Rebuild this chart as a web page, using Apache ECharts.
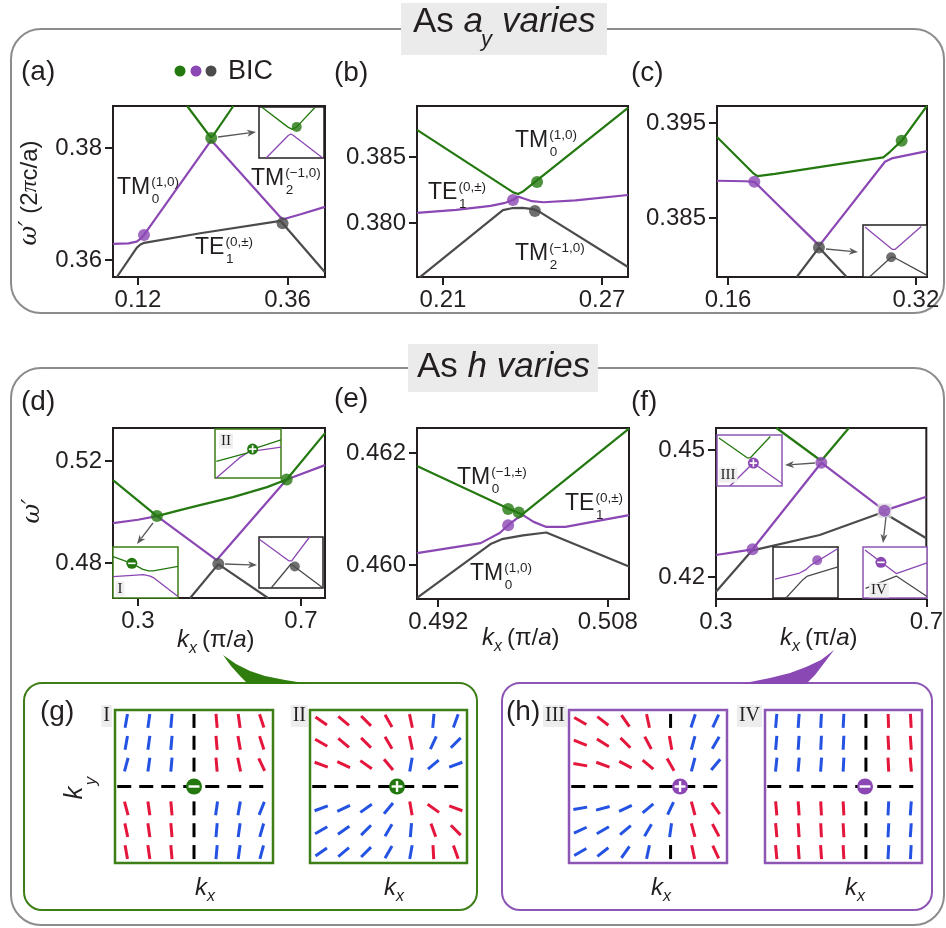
<!DOCTYPE html>
<html><head><meta charset="utf-8">
<script src="https://cdn.jsdelivr.net/npm/echarts@6/dist/echarts.min.js"></script>
<style>html,body{margin:0;padding:0;background:#fff}#c{width:946px;height:928px}</style>
</head><body><div id="c"></div><script>
// ---------------- DATA ----------------
// (a) band structure as a_y varies
const aGreen  = [[0.1989,0.3875],[0.232,0.3826],[0.2376,0.3819],[0.243,0.3826],[0.273,0.3875]];
const aPurple = [[0.080,0.3629],[0.105,0.3630],[0.118,0.3633],[0.124,0.3638],[0.1297,0.3645],[0.2376,0.3814],[0.348,0.3677],[0.353,0.3673],[0.381,0.3682],[0.420,0.3695]];
const aGray   = [[0.0862,0.3570],[0.118,0.3622],[0.124,0.3628],[0.130,0.3631],[0.2199,0.3648],[0.3487,0.3670],[0.3519,0.3666],[0.4196,0.3579]];
const aBicGreen = [[0.2376,0.3818]], aBicPurple = [[0.1297,0.3645]], aBicGray = [[0.3519,0.3666]];
const aXTicks = [0.12,0.36], aYTicks = [0.36,0.38];
// (b)
const bGreen  = [[0.2002,0.38705],[0.2365,0.38232],[0.2383,0.38220],[0.2400,0.38236],[0.2798,0.38871]];
const bPurple = [[0.2002,0.38076],[0.215,0.38100],[0.228,0.38130],[0.233,0.38150],[0.2364,0.38174],[0.2383,0.38200],[0.2405,0.38185],[0.2435,0.38165],[0.2479,0.38157],[0.260,0.38172],[0.2798,0.38212]];
const bGray   = [[0.2013,0.37590],[0.2326,0.38098],[0.2360,0.38112],[0.2400,0.38115],[0.2440,0.38105],[0.2460,0.38090],[0.2798,0.37667]];
const bBicGreen = [[0.2455,0.38310]], bBicPurple = [[0.2364,0.38174]], bBicGray = [[0.2447,0.38091]];
const bXTicks = [0.21,0.27], bYTicks = [0.380,0.385];
// (c)
const cGreen  = [[0.1506,0.39353],[0.1813,0.38974],[0.1850,0.38942],[0.2000,0.38965],[0.2500,0.39060],[0.2922,0.39139],[0.2979,0.39198],[0.3078,0.39314],[0.3294,0.39682]];
const cPurple = [[0.1506,0.38893],[0.1750,0.38888],[0.1824,0.38882],[0.2377,0.38210],[0.2936,0.39093],[0.2993,0.39128],[0.3294,0.39205]];
const cGray   = [[0.2185,0.3788],[0.2374,0.3819],[0.2610,0.3788]];
const cBicGreen = [[0.3078,0.39314]], cBicPurple = [[0.1824,0.38882]], cBicGray = [[0.2374,0.38190]];
const cXTicks = [0.16,0.32], cYTicks = [0.385,0.395];
// (d) as h varies
const dGreen  = [[0.2387,0.51255],[0.3466,0.49843],[0.4031,0.5008],[0.4521,0.50275],[0.5331,0.5059],[0.5748,0.50784],[0.6166,0.5098],[0.6649,0.5128],[0.7589,0.5310]];
const dPurple = [[0.2387,0.49569],[0.300,0.49700],[0.3466,0.49843],[0.4931,0.48118],[0.6649,0.5128],[0.7589,0.51843]];
const dGray   = [[0.4276,0.4662],[0.4971,0.4796],[0.6198,0.4662]];
const dBicGreen = [[0.3466,0.49843],[0.6649,0.5128]], dBicGray = [[0.4971,0.4796]];
const dXTicks = [0.3,0.7], dYTicks = [0.48,0.52];
// (e)
const eGreen  = [[0.4900,0.46177],[0.4986,0.46101],[0.4996,0.46093],[0.4999,0.46090],[0.5100,0.46244]];
const ePurple = [[0.4900,0.46021],[0.4960,0.46039],[0.4978,0.46057],[0.4986,0.46071],[0.4994,0.46083],[0.5000,0.46089],[0.5010,0.46077],[0.5022,0.46068],[0.5040,0.46068],[0.5100,0.46089]];
const eGray   = [[0.4900,0.45941],[0.4970,0.46038],[0.4980,0.46046],[0.5000,0.46053],[0.5022,0.46058],[0.5100,0.45997]];
const eBicGreen = [[0.4986,0.46100],[0.4996,0.46094]], eBicPurple = [[0.4986,0.46071]];
const eXTicks = [0.492,0.508], eYTicks = [0.460,0.462];
// (f)
const fGreen  = [[0.4150,0.4552],[0.4972,0.4477],[0.5027,0.4478],[0.5527,0.4552]];
const fPurple = [[0.3000,0.4252],[0.3695,0.42654],[0.5003,0.4470],[0.6204,0.43567],[0.7000,0.43897]];
const fGray   = [[0.3000,0.41653],[0.3680,0.42620],[0.3740,0.42640],[0.4972,0.42992],[0.6172,0.43528],[0.7000,0.42914]];
const fBicPurple = [[0.3695,0.42654],[0.5003,0.4470],[0.6204,0.43567]];
const fXTicks = [0.3,0.7], fYTicks = [0.42,0.45];
// zoomed insets (normalised inset coordinates)
const insAGreen = [[0.05,0.99],[0.44,0.61],[0.51,0.56],[0.58,0.61],[0.86,0.99]];
const insAPurple = [[0.11,0.0],[0.45,0.44],[0.49,0.47],[0.53,0.44],[0.98,0.0]];
const insADot = [[0.58,0.61]];
const insCPurple = [[0.03,0.96],[0.46,0.53],[0.48,0.51],[0.50,0.53],[0.91,0.97]];
const insCGray = [[0.10,0.0],[0.44,0.38],[0.46,0.40],[0.48,0.38],[0.99,0.04]];
const insCDot = [[0.44,0.38]];
const insIGreen = [[0.0,0.81],[0.29,0.68],[0.46,0.56],[0.55,0.53],[0.62,0.53],[1.0,0.62]];
const insIPurple = [[0.0,0.42],[0.47,0.46],[0.57,0.43],[0.62,0.40],[1.0,0.03]];
const insICharge = [[0.29,0.68,-1]];
const insIIGreen = [[0.02,0.34],[0.48,0.51],[0.57,0.59],[1.0,0.78]];
const insIIPurple = [[0.02,0.0],[0.37,0.41],[0.50,0.52],[0.58,0.55],[1.0,0.63]];
const insIICharge = [[0.57,0.59,1]];
const insDPurple = [[0.01,0.95],[0.47,0.53],[0.49,0.51],[0.51,0.53],[0.79,1.0]];
const insDGray = [[0.19,0.0],[0.50,0.47],[1.0,0.0]];
const insDDot = [[0.56,0.42]];
const insIIIGreen = [[0.03,0.94],[0.47,0.55],[0.49,0.53],[0.51,0.55],[0.82,0.97]];
const insIIIPurple = [[0.2,0.0],[0.54,0.43],[0.56,0.45],[0.58,0.43],[1.0,0.05]];
const insIIICharge = [[0.56,0.45,1]];
const insFPurple = [[0.03,0.37],[0.41,0.49],[0.50,0.55],[0.59,0.65],[1.0,0.97]];
const insFGray = [[0.2,0.0],[0.46,0.36],[0.53,0.43],[1.0,0.61]];
const insFDot = [[0.68,0.74]];
const insIVPurple = [[0.03,0.94],[0.52,0.48],[1.0,0.69]];
const insIVGray = [[0.04,0.19],[0.52,0.43],[1.0,0.03]];
const insIVCharge = [[0.28,0.70,-1]];
// polarization fields (g),(h): angle from vertical in degrees (+ = "/")
const colX = [-3,-2,-1,0,1,2,3];
const rowY = [3,2,1,-1,-2,-3];
const fieldI = [[10,8,5,0,-5,-8,-18],[10,8,5,0,-5,-10,-18],[15,8,5,0,-5,-12,-25],[-15,-8,-5,0,8,10,22],[-12,-8,-5,0,5,8,16],[-10,-8,-5,0,5,8,15]];
const fieldII = [[-55,-50,-45,-30,-12,5,20],[-60,-50,-45,-30,-12,25,45],[-70,-65,-55,-40,10,50,70],[70,65,55,40,-10,-55,-70],[60,55,45,30,5,-20,-45],[55,50,45,30,10,-3,-20]];
const fieldIII = [[-60,-52,-35,-12,0,18,25],[-68,-58,-45,-28,-10,15,30],[-80,-70,-62,-50,-30,15,40],[80,75,65,50,25,-15,-35],[65,60,50,30,8,-15,-28],[60,52,35,12,0,-12,-25]];
const fieldIV = [[5,4,3,3,0,-2,-3],[5,4,3,3,0,-3,-4],[6,5,4,3,0,-3,-5],[-5,-4,-3,-3,0,3,4],[-5,-4,-3,-3,0,3,4],[-5,-4,-4,-3,0,3,3]];
const chargeI = [[0,0,-1]], chargeII = [[0.38,0,1]], chargeIII = [[1.42,0,1]], chargeIV = [[0.96,0,-1]];

// ---------------- STYLE ----------------
const INK = '#231f20';
const GREEN = '#23780f', PURPLE = '#8b47b3', GRAY = '#4b4b4b';
const RED = '#e4163c', BLUE = '#2453e3';
const GBOX = '#3d7e16', PBOX = '#8d56b5';
const SANS = 'Liberation Sans', SERIF = 'Liberation Serif';

const mctx = document.createElement('canvas').getContext('2d');
function tw(t, size, style, fam) { mctx.font = (style||'normal') + ' ' + size + 'px "' + (fam||SANS) + '"'; return mctx.measureText(t).width; }
function T(x, y, t, size, o) {
  o = o || {};
  const st = {text:t, fontSize:size, fontFamily:o.fam||SANS, fontStyle:o.style||'normal', fill:o.color||INK,
    align:o.align||'left', verticalAlign:o.va||'middle'};
  if (o.bg) { st.backgroundColor = o.bg; st.padding = o.pad || [1,2]; }
  if (o.rich) st.rich = o.rich;
  return {type:'text', x:x, y:y, z:50, rotation:o.rot||0, style:st};
}
function mode(x, yc, main, sub, sup) {
  const w = tw(main, 23);
  return [T(x, yc, main, 23), T(x + w + 1, yc - 6, sup, 13.5), T(x + w + 1.5, yc + 11, sub, 13.5)];
}
function kx(x, yc) {
  const w = tw('k', 24, 'italic');
  return [T(x, yc, 'k', 24, {style:'italic'}), T(x + w, yc + 9, 'x', 16, {style:'italic'}),
    T(x + 25, yc, '{n|(π/}{i|a}{n|)}', 24, {rich:{n:{fontSize:24, fontFamily:SANS}, i:{fontSize:24, fontFamily:SANS, fontStyle:'italic'}}})];
}
function arrow(x1, y1, x2, y2) {
  const a = Math.atan2(y2 - y1, x2 - x1), L = 9, W = 3.5;
  const bx = x2 - L * Math.cos(a), by = y2 - L * Math.sin(a);
  return [{type:'line', z:40, shape:{x1:x1, y1:y1, x2:bx + 2 * Math.cos(a), y2:by + 2 * Math.sin(a)}, style:{stroke:'#595959', lineWidth:1.3}},
    {type:'polygon', z:40, shape:{points:[[x2, y2], [bx - W * Math.sin(a), by + W * Math.cos(a)], [bx + 2.5 * Math.cos(a), by + 2.5 * Math.sin(a)], [bx + W * Math.sin(a), by - W * Math.cos(a)]]}, style:{fill:'#595959'}}];
}

// ---------------- BUILD ----------------
const grids = [], xAxes = [], yAxes = [], series = [];
function hiddenAxis(gi, r) { return {gridIndex:gi, type:'value', min:r[0], max:r[1], show:false, splitLine:{show:false}}; }
function tickAxis(gi, r, ticks, dec) {
  return {gridIndex:gi, type:'value', min:r[0], max:r[1], axisLine:{show:false}, splitLine:{show:false},
    axisTick:{show:true, inside:false, length:8, lineStyle:{color:INK, width:2}, customValues:ticks},
    axisLabel:{show:true, customValues:ticks, formatter:function(v){return v.toFixed(dec);}, fontSize:24, color:INK, fontFamily:SANS, margin:11}};
}
function mainGrid(box, xr, yr, xt, yt, xd, yd) {
  const gi = grids.length;
  grids.push({left:box[0], top:box[1], width:box[2], height:box[3], show:true, borderColor:INK, borderWidth:2, backgroundColor:'transparent', z:1});
  xAxes.push(tickAxis(gi, xr, xt, xd)); yAxes.push(tickAxis(gi, yr, yt, yd));
  return gi;
}
function plainGrid(box, xr, yr, border, bw, z) {
  const gi = grids.length;
  grids.push({left:box[0], top:box[1], width:box[2], height:box[3], show:true, borderColor:border, borderWidth:bw, backgroundColor:'#ffffff', z:z});
  xAxes.push(hiddenAxis(gi, xr)); yAxes.push(hiddenAxis(gi, yr));
  return gi;
}
function line(gi, data, color, w, z) {
  series.push({type:'line', xAxisIndex:gi, yAxisIndex:gi, data:data, showSymbol:false, symbol:'none', silent:true, clip:true,
    lineStyle:{color:color, width:w}, z:z || 2});
}
function dots(gi, data, color, size, z, sym) {
  series.push({type:'scatter', xAxisIndex:gi, yAxisIndex:gi, data:data, symbol:sym || 'circle', symbolSize:size, silent:true,
    itemStyle:{color:color}, z:z || 3});
}
function charges(gi, data, color, r, z) {
  series.push({type:'custom', xAxisIndex:gi, yAxisIndex:gi, data:data, z:z, silent:true,
    renderItem:function(p, api) {
      const c = api.coord([api.value(0), api.value(1)]), s = api.value(2), h = r * 0.68;
      const ch = [{type:'circle', shape:{cx:c[0], cy:c[1], r:r}, style:{fill:color}},
        {type:'line', shape:{x1:c[0] - h, y1:c[1], x2:c[0] + h, y2:c[1]}, style:{stroke:'#fff', lineWidth:Math.max(1.4, r * 0.3)}}];
      if (s > 0) ch.push({type:'line', shape:{x1:c[0], y1:c[1] - h, x2:c[0], y2:c[1] + h}, style:{stroke:'#fff', lineWidth:Math.max(1.4, r * 0.3)}});
      return {type:'group', children:ch};
    }});
}
function field(gi, angles) {
  const d = [];
  angles.forEach(function(row, r) { row.forEach(function(a, c) { d.push([colX[c], rowY[r], a]); }); });
  series.push({type:'line', xAxisIndex:gi, yAxisIndex:gi, data:[[-3.4,0],[3.4,0]], showSymbol:false, symbol:'none', silent:true,
    lineStyle:{color:'#000', width:3, type:[14,8]}, z:3});
  series.push({type:'custom', xAxisIndex:gi, yAxisIndex:gi, data:d, z:4, silent:true,
    renderItem:function(p, api) {
      const c = api.coord([api.value(0), api.value(1)]), a = api.value(2), th = a * Math.PI / 180, L = 7;
      const dx = Math.sin(th) * L, dy = Math.cos(th) * L;
      const col = a > 0 ? BLUE : (a < 0 ? RED : '#000');
      return {type:'line', shape:{x1:c[0] - dx, y1:c[1] + dy, x2:c[0] + dx, y2:c[1] - dy}, style:{stroke:col, lineWidth:3}};
    }});
}

// main panels
const gA = mainGrid([113,106,212,171], [0.080,0.420], [0.3570,0.3875], aXTicks, aYTicks, 2, 2);
const gB = mainGrid([417,106,211,171], [0.2002,0.2798], [0.37591,0.38886], bXTicks, bYTicks, 2, 3);
const gC = mainGrid([717,106,210,171], [0.1506,0.3294], [0.3788,0.3968], cXTicks, cYTicks, 2, 3);
const gD = mainGrid([113,428,212,170], [0.2387,0.7589], [0.4663,0.5330], dXTicks, dYTicks, 1, 2);
const gE = mainGrid([417,428,212,171], [0.4900,0.5100], [0.45939,0.46245], eXTicks, eYTicks, 3, 3);
const gF = mainGrid([716,428,211,171], [0.3,0.7], [0.4148,0.4552], fXTicks, fYTicks, 1, 2);

const LW = 2.2, DS = 12;
line(gA, aGray, GRAY, LW); line(gA, aPurple, PURPLE, LW); line(gA, aGreen, GREEN, LW);
dots(gA, aBicGreen, GREEN, DS); dots(gA, aBicPurple, PURPLE, DS); dots(gA, aBicGray, GRAY, DS);
line(gB, bGray, GRAY, LW); line(gB, bPurple, PURPLE, LW); line(gB, bGreen, GREEN, LW);
dots(gB, bBicGreen, GREEN, DS); dots(gB, bBicPurple, PURPLE, DS); dots(gB, bBicGray, GRAY, DS);
line(gC, cGray, GRAY, LW); line(gC, cPurple, PURPLE, LW); line(gC, cGreen, GREEN, LW);
dots(gC, cBicGreen, GREEN, DS); dots(gC, cBicPurple, PURPLE, DS); dots(gC, cBicGray, GRAY, DS);
line(gD, dGray, GRAY, LW); line(gD, dPurple, PURPLE, LW); line(gD, dGreen, GREEN, LW);
dots(gD, dBicGreen, GREEN, DS); dots(gD, dBicGray, GRAY, DS);
line(gE, eGray, GRAY, LW); line(gE, ePurple, PURPLE, LW); line(gE, eGreen, GREEN, LW);
dots(gE, eBicGreen, GREEN, DS); dots(gE, eBicPurple, PURPLE, DS);
line(gF, fGray, GRAY, LW); line(gF, fPurple, PURPLE, LW); line(gF, fGreen, GREEN, LW);
dots(gF, [fBicPurple[2]], '#dcdcdc', 14, 3, 'rect');
dots(gF, fBicPurple, PURPLE, DS, 4);

// insets
const IL = 1.3, ID = 10;
const iA = plainGrid([259,107,65,51], [0,1], [0,1], INK, 1.5, 5);
line(iA, insAPurple, PURPLE, IL, 6); line(iA, insAGreen, GREEN, IL, 6); dots(iA, insADot, GREEN, ID, 7);
const iC = plainGrid([863,225,64,52], [0,1], [0,1], INK, 1.5, 5);
line(iC, insCPurple, PURPLE, IL, 6); line(iC, insCGray, GRAY, IL, 6); dots(iC, insCDot, GRAY, ID, 7);
const iI = plainGrid([113,547,65,51], [0,1], [0,1], GBOX, 1.5, 5);
line(iI, insIPurple, PURPLE, IL, 6); line(iI, insIGreen, GREEN, IL, 6); charges(iI, insICharge, GREEN, 5.5, 7);
const iII = plainGrid([215,429,66,49], [0,1], [0,1], GBOX, 1.5, 5);
line(iII, insIIPurple, PURPLE, IL, 6); line(iII, insIIGreen, GREEN, IL, 6); charges(iII, insIICharge, GREEN, 5.5, 7);
const iD = plainGrid([259,537,64,51], [0,1], [0,1], INK, 1.5, 5);
line(iD, insDPurple, PURPLE, IL, 6); line(iD, insDGray, GRAY, IL, 6); dots(iD, insDDot, GRAY, ID, 7);
const iIII = plainGrid([717,435,65,51], [0,1], [0,1], PBOX, 1.5, 5);
line(iIII, insIIIGreen, GREEN, IL, 6); line(iIII, insIIIPurple, PURPLE, IL, 6); charges(iIII, insIIICharge, PURPLE, 5.5, 7);
const iF = plainGrid([773,547,65,51], [0,1], [0,1], INK, 1.5, 5);
line(iF, insFPurple, PURPLE, IL, 6); line(iF, insFGray, GRAY, IL, 6); dots(iF, insFDot, PURPLE, ID, 7);
const iIV = plainGrid([863,547,64,51], [0,1], [0,1], PBOX, 1.5, 5);
line(iIV, insIVPurple, PURPLE, IL, 6); line(iIV, insIVGray, GRAY, IL, 6); charges(iIV, insIVCharge, PURPLE, 5.5, 7);

// polarization panels
const vI = plainGrid([115,710,158,153], [-3.5,3.5], [-3.5,3.5], GBOX, 2.5, 1);
field(vI, fieldI); charges(vI, chargeI, GREEN, 8, 6);
const vII = plainGrid([310,710,157,153], [-3.5,3.5], [-3.5,3.5], GBOX, 2.5, 1);
field(vII, fieldII); charges(vII, chargeII, GREEN, 8, 6);
const vIII = plainGrid([569,710,158,153], [-3.5,3.5], [-3.5,3.5], PBOX, 2.5, 1);
field(vIII, fieldIII); charges(vIII, chargeIII, PURPLE, 8, 6);
const vIV = plainGrid([765,710,157,153], [-3.5,3.5], [-3.5,3.5], PBOX, 2.5, 1);
field(vIV, fieldIV); charges(vIV, chargeIV, PURPLE, 8, 6);

// ---------------- DECORATION ----------------
let G = [];
G.push({type:'rect', z:0, shape:{x:11, y:29, width:933, height:284, r:30}, style:{fill:'none', stroke:'#8c8c8c', lineWidth:2}});
G.push({type:'rect', z:0, shape:{x:11, y:368, width:933, height:557, r:30}, style:{fill:'none', stroke:'#8c8c8c', lineWidth:2}});
G.push({type:'rect', z:1, shape:{x:401, y:3, width:206, height:52}, style:{fill:'#ebebeb'}});
G.push({type:'rect', z:1, shape:{x:408, y:344, width:190, height:48}, style:{fill:'#ebebeb'}});
G.push({type:'rect', z:0, shape:{x:24, y:683, width:453, height:227, r:18}, style:{fill:'none', stroke:GBOX, lineWidth:2}});
G.push({type:'rect', z:0, shape:{x:502, y:683, width:430, height:227, r:18}, style:{fill:'none', stroke:PBOX, lineWidth:2}});
// titles
(function(){
  const x0 = 413, y0 = 22, fs = 35;
  const w1 = tw('As ', fs), w2 = tw('a', fs, 'italic');
  G.push(T(x0, y0, 'As ', fs));
  G.push(T(x0 + w1, y0, 'a', fs, {style:'italic'}));
  G.push(T(x0 + w1 + w2 - 2, y0 + 18, 'y', 22, {style:'italic'}));
  G.push(T(x0 + w1 + w2 + 19, y0, 'varies', fs, {style:'italic'}));
  G.push(T(417, 367, '{n|As }{i|h varies}', fs, {rich:{n:{fontSize:fs, fontFamily:SANS}, i:{fontSize:fs, fontFamily:SANS, fontStyle:'italic'}}}));
})();
// legend
G.push({type:'circle', z:50, shape:{cx:180, cy:71, r:5.5}, style:{fill:GREEN}});
G.push({type:'circle', z:50, shape:{cx:196, cy:71, r:5.5}, style:{fill:PURPLE}});
G.push({type:'circle', z:50, shape:{cx:211, cy:71, r:5.5}, style:{fill:GRAY}});
G.push(T(228, 72, 'BIC', 27));
// panel letters
[['(a)',21,72],['(b)',334,73],['(c)',631,73],['(d)',21,402],['(e)',334,399],['(f)',631,402],['(g)',40,712],['(h)',506,712]]
  .forEach(function(p){ G.push(T(p[1], p[2], p[0], 28)); });
// mode labels
G = G.concat(mode(117,188,'TM','0','(1,0)'), mode(251,179,'TM','2','(−1,0)'), mode(195,248,'TE','1','(0,±)'));
G = G.concat(mode(515,141,'TM','0','(1,0)'), mode(428,193,'TE','1','(0,±)'), mode(515,254,'TM','2','(−1,0)'));
G = G.concat(mode(457,478,'TM','0','(−1,±)'), mode(565,504,'TE','1','(0,±)'), mode(470,574,'TM','0','(1,0)'));
// axis titles
G.push(T(30, 193, '{w|ω′} (2{p|π}c/a)', 24, {rot:Math.PI/2, align:'center',
  rich:{w:{fontSize:24, fontFamily:'DejaVu Serif', fontStyle:'italic'}, p:{fontSize:24, fontFamily:SERIF, fontStyle:'italic'}}}));
G.push(T(33, 511, 'ω′', 24, {rot:Math.PI/2, align:'center', fam:'DejaVu Serif', style:'italic'}));
G = G.concat(kx(177, 640), kx(482, 638), kx(780, 638));
G.push(T(75, 793, 'k', 26, {rot:Math.PI/2, align:'center', style:'italic'}));
G.push(T(91, 781, 'y', 17, {rot:Math.PI/2, align:'center', style:'italic'}));
[[195,888],[384,888],[651,888],[845,888]].forEach(function(p){
  G.push(T(p[0], p[1], 'k', 24, {style:'italic'}));
  G.push(T(p[0] + tw('k', 24, 'italic'), p[1] + 9, 'x', 16, {style:'italic'}));
});
// roman numerals
[['I',112,716],['II',308,716],['III',567,716],['IV',762,716]].forEach(function(p){
  G.push(T(p[1], p[2], p[0], 20, {fam:SERIF, align:'right', bg:'#ededed', pad:[1,2]}));
});
G.push(T(120, 589, 'I', 15, {fam:SERIF, align:'center', bg:'#efefef', pad:[0,2]}));
G.push(T(226, 441, 'II', 15, {fam:SERIF, align:'center', bg:'#efefef', pad:[0,2]}));
G.push(T(728, 475, 'III', 15, {fam:SERIF, align:'center', bg:'#efefef', pad:[0,2]}));
G.push(T(879, 590, 'IV', 15, {fam:SERIF, align:'center', bg:'#efefef', pad:[0,2]}));
// arrows
G = G.concat(arrow(218,137,256,132), arrow(826,249,858,252), arrow(153,523,137,544), arrow(225,564,257,565),
  arrow(815,463,785,465), arrow(886,517,883,543));
// wedges
G.push({type:'polygon', z:30, shape:{points:[[223,655],[236,664],[250,671],[265,676],[285,680],[310,684],[248,684],[240,676],[231,666]]}, style:{fill:'#2f7d0c'}});
G.push({type:'polygon', z:30, shape:{points:[[834,650],[821,660],[806,667],[790,673],[770,678],[740,684],[806,684],[815,675],[825,662]]}, style:{fill:'#8a48b5'}});

const chart = echarts.init(document.getElementById('c'), null, {renderer:'canvas', width:946, height:928});
chart.setOption({animation:false, backgroundColor:'#ffffff', grid:grids, xAxis:xAxes, yAxis:yAxes, series:series, graphic:G});
</script></body></html>
